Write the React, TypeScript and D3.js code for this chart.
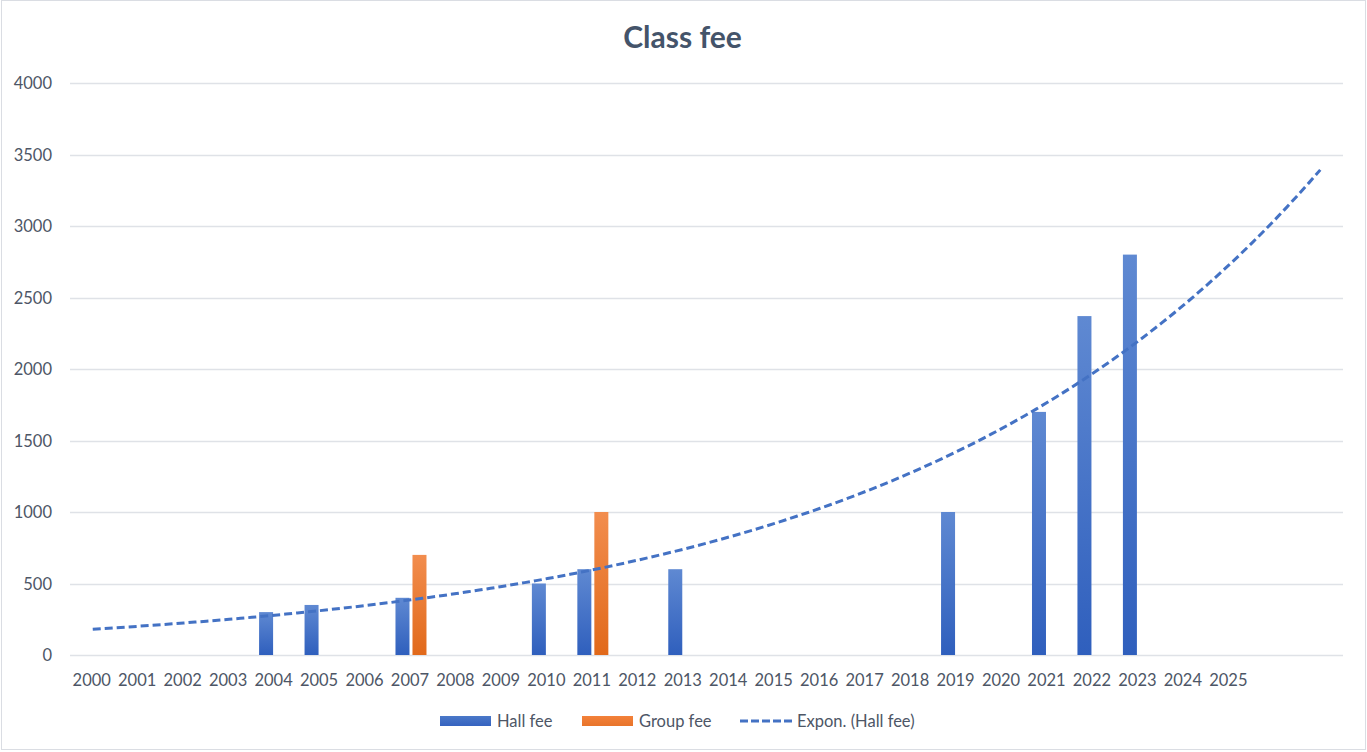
import * as React from 'react';
import * as d3 from 'd3';

// categories on the x axis (two trailing blank slots hold the trend forecast)
const years: string[] = [
    '2000', '2001', '2002', '2003', '2004', '2005', '2006', '2007', '2008', '2009',
    '2010', '2011', '2012', '2013', '2014', '2015', '2016', '2017', '2018', '2019',
    '2020', '2021', '2022', '2023', '2024', '2025', '', ''
];

const hallFee: (number | null)[] = [
    null, null, null, null, 300, 350, null, 400, null, null,
    500, 600, null, 600, null, null, null, null, null, 1000,
    null, 1700, 2370, 2800, null, null, null, null
];

const groupFee: (number | null)[] = [
    null, null, null, null, null, null, null, 700, null, null,
    null, 1000, null, null, null, null, null, null, null, null,
    null, null, null, null, null, null, null, null
];

const yTicks = [0, 500, 1000, 1500, 2000, 2500, 3000, 3500, 4000];

const W = 1367;
const H = 752;
const margins = {left: 70, right: 24, top: 83, bottom: 97};
const FONT = 'Lato, "Open Sans", sans-serif';
const TEXT = '#4d5666';
const GRID = '#dfe2e7';

// exponential least squares fit, like excel's "Expon." trendline
function expFit(values: (number | null)[]): [number, number] {
    const pts = values.map((v, i) => [i, v] as [number, number | null])
        .filter(p => p[1] != null && (p[1] as number) > 0) as [number, number][];
    const mx = d3.mean(pts, p => p[0]) as number;
    const my = d3.mean(pts, p => Math.log(p[1])) as number;
    const sxx = d3.sum(pts, p => (p[0] - mx) * (p[0] - mx));
    const sxy = d3.sum(pts, p => (p[0] - mx) * (Math.log(p[1]) - my));
    const b = sxy / sxx;
    return [Math.exp(my - b * mx), b];
}

export default function App() {
    const idx = years.map((_, i) => i);
    const x = d3.scaleBand<number>().domain(idx).range([margins.left, W - margins.right]);
    const y = d3.scaleLinear().domain([0, 4000]).range([H - margins.bottom, margins.top]);
    const barW = 14;
    const gap = 3;
    const center = (i: number) => (x(i) as number) + x.bandwidth() / 2;
    // continuous position for the trend line
    const xc = d3.scaleLinear().domain([0, years.length - 1]).range([center(0), center(years.length - 1)]);

    const [a, b] = expFit(hallFee);
    const trend = d3.line<number>()
        .x(i => xc(i))
        .y(i => y(a * Math.exp(b * i)));
    const trendIdx = d3.range(0, years.length - 1 + 0.001, 0.25);

    return (
        <svg width={W} height={H} style={{position: 'absolute', left: 0, top: 0}}
             xmlns="http://www.w3.org/2000/svg" fontFamily={FONT}>
            <defs>
                <linearGradient id="gBlue" x1="0" y1="0" x2="0" y2="1">
                    <stop offset="0" stopColor="#5f89d2"/>
                    <stop offset="1" stopColor="#2f5fbd"/>
                </linearGradient>
                <linearGradient id="gOrange" x1="0" y1="0" x2="0" y2="1">
                    <stop offset="0" stopColor="#f28d4e"/>
                    <stop offset="1" stopColor="#e1691a"/>
                </linearGradient>
                <linearGradient id="gBlueH" x1="0" y1="0" x2="0" y2="1">
                    <stop offset="0" stopColor="#4a78c8"/>
                    <stop offset="1" stopColor="#3563c0"/>
                </linearGradient>
                <linearGradient id="gOrangeH" x1="0" y1="0" x2="0" y2="1">
                    <stop offset="0" stopColor="#f3813a"/>
                    <stop offset="1" stopColor="#e8742a"/>
                </linearGradient>
            </defs>
            <rect x={0} y={0} width={W} height={H} fill="#ffffff"/>
            <rect x={1.5} y={0.5} width={W - 3} height={H - 3} fill="none" stroke="#dadde3"/>

            <text x={W / 2 - 1} y={48} textAnchor="middle" fontSize={30} fontWeight="bold" fill="#44546a">Class fee</text>

            {yTicks.map(t => (
                <g key={t}>
                    <line x1={margins.left} x2={W - margins.right} y1={Math.round(y(t)) + 0.5} y2={Math.round(y(t)) + 0.5}
                          stroke={GRID} strokeWidth={1.3}/>
                    <text x={52} y={y(t) + 6} textAnchor="end" fontSize={16.5} fill={TEXT}>{t}</text>
                </g>
            ))}

            {years.map((yr, i) => (
                <text key={i} x={center(i) - 1} y={686} textAnchor="middle" fontSize={16.5} fill={TEXT}>{yr}</text>
            ))}

            {hallFee.map((v, i) => v == null ? null : (
                <rect key={'h' + i} x={center(i) - gap / 2 - barW} y={y(v)} width={barW} height={y(0) - y(v)}
                      fill="url(#gBlue)"/>
            ))}
            {groupFee.map((v, i) => v == null ? null : (
                <rect key={'g' + i} x={center(i) + gap / 2} y={y(v)} width={barW} height={y(0) - y(v)}
                      fill="url(#gOrange)"/>
            ))}

            <path d={trend(trendIdx) || ''} fill="none" stroke="#4472c4" strokeWidth={3}
                  strokeDasharray="8 4" strokeLinecap="butt"/>

            <g fontSize={16.5} fill={TEXT}>
                <rect x={440} y={716} width={51} height={10} fill="url(#gBlueH)"/>
                <text x={497} y={727}>Hall fee</text>
                <rect x={582} y={716} width={51} height={10} fill="url(#gOrangeH)"/>
                <text x={639} y={727}>Group fee</text>
                <line x1={740} x2={793} y1={721} y2={721} stroke="#4472c4" strokeWidth={3} strokeDasharray="8 3"/>
                <text x={797} y={727}>Expon. (Hall fee)</text>
            </g>
        </svg>
    );
}
